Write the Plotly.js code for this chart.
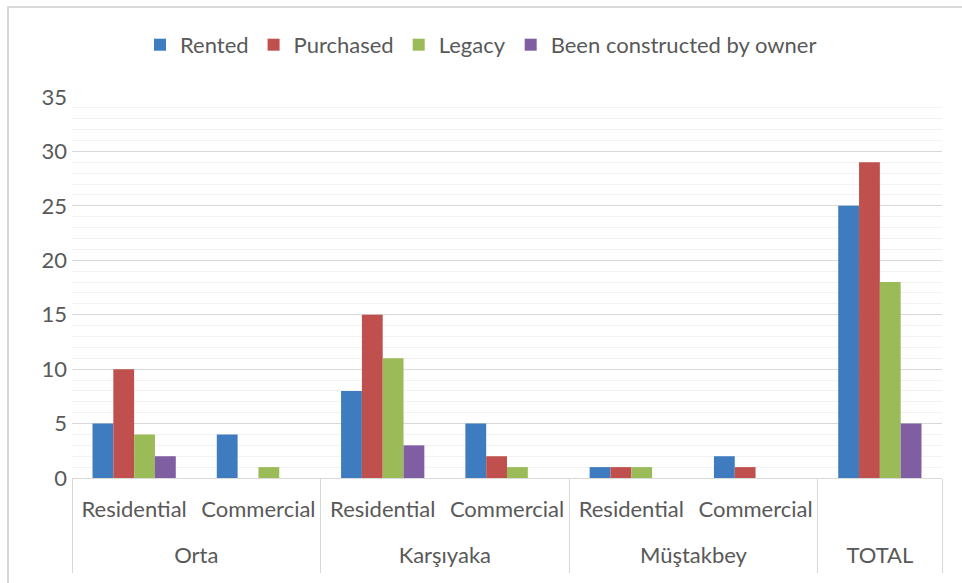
<!DOCTYPE html>
<html>
<head>
<meta charset="utf-8">
<script src="https://cdn.plot.ly/plotly-3.0.1.min.js"></script>
<style>
html,body{margin:0;padding:0;background:#fff;}
#chart{width:962px;height:583px;}
#frame{position:absolute;left:7px;top:6px;width:970px;height:600px;border-top:2px solid #D9D9D9;border-left:2px solid #D9D9D9;pointer-events:none;}
</style>
</head>
<body>
<div id="chart"></div>
<div id="frame"></div>
<script>
const groups = ["Orta","Orta","Karşıyaka","Karşıyaka","Müştakbey","Müştakbey","TOTAL"];
const subs = ["Residential","Commercial","Residential","Commercial","Residential","Commercial",""];
const seriesNames = ["Rented","Purchased","Legacy","Been constructed by owner"];
const rented = [5,4,8,5,1,2,25];
const purchased = [10,0,15,2,1,1,29];
const legacy = [4,1,11,1,1,0,18];
const constructed = [2,0,3,0,0,0,5];
const colors = ["#3E7BBF","#C0504D","#9BBB59","#7F5FA1"];

// category positions derived from the arrays
const idx = subs.map((_,i)=>i);
const groupNames = [], groupCenters = [], bounds = [-0.5];
let start = 0;
for (let i=1;i<=groups.length;i++){
  if (i===groups.length || groups[i]!==groups[start]){
    groupNames.push(groups[start]);
    groupCenters.push((start+i-1)/2);
    bounds.push(i-0.5);
    start = i;
  }
}
const xr = [-0.5, groups.length-0.5];

const values = [rented,purchased,legacy,constructed];
const traces = values.map((v,i)=>({
  type:'bar', name: seriesNames[i], x: idx, y: v,
  marker:{color:colors[i]}, hoverinfo:'y'
}));
// invisible helper traces so the label/divider axes are drawn
traces.push({type:'scatter',x:xr,y:[0,0],xaxis:'x2',mode:'none',showlegend:false,hoverinfo:'skip'});
traces.push({type:'scatter',x:xr,y:[0,0],xaxis:'x3',mode:'none',showlegend:false,hoverinfo:'skip'});

const txtColor = '#595959';
const layout = {
  width:962,height:583,
  margin:{l:72,r:20,t:97,b:105},
  paper_bgcolor:'#fff',plot_bgcolor:'#fff',
  font:{family:'Lato, "Open Sans", sans-serif',size:22,color:txtColor},
  barmode:'group', bargap:0.33, bargroupgap:0,
  showlegend:true,
  legend:{orientation:'h',x:0.5,xanchor:'center',xref:'container',y:0.923,yref:'container',yanchor:'middle',
          font:{size:22,color:txtColor},traceorder:'normal',itemwidth:30},
  xaxis:{range:xr,tickvals:idx,ticktext:subs,showline:true,linecolor:'#D9D9D9',linewidth:1,
         ticks:'',showgrid:false,zeroline:false,ticklabelstandoff:12,
         tickfont:{size:22,color:txtColor}},
  xaxis2:{overlaying:'x',anchor:'y',side:'bottom',range:xr,tickvals:groupCenters,ticktext:groupNames,
          ticks:'',showgrid:false,zeroline:false,showline:false,ticklabelstandoff:62,
          tickfont:{size:22,color:txtColor}},
  xaxis3:{overlaying:'x',anchor:'y',side:'bottom',range:xr,tickvals:bounds,
          ticks:'outside',ticklen:94,tickwidth:1,tickcolor:'#D9D9D9',showticklabels:false,
          showgrid:false,zeroline:false,showline:false},
  yaxis:{range:[0,35],dtick:5,showgrid:true,gridcolor:'#D9D9D9',gridwidth:1,
         zeroline:false,showline:false,ticks:'',
         tickfont:{size:22,color:txtColor},ticklabelstandoff:4,
         minor:{dtick:1,showgrid:true,gridcolor:'#F2F2F2',gridwidth:1}}
};
Plotly.newPlot('chart',traces,layout,{displayModeBar:false,staticPlot:true});
</script>
</body>
</html>
